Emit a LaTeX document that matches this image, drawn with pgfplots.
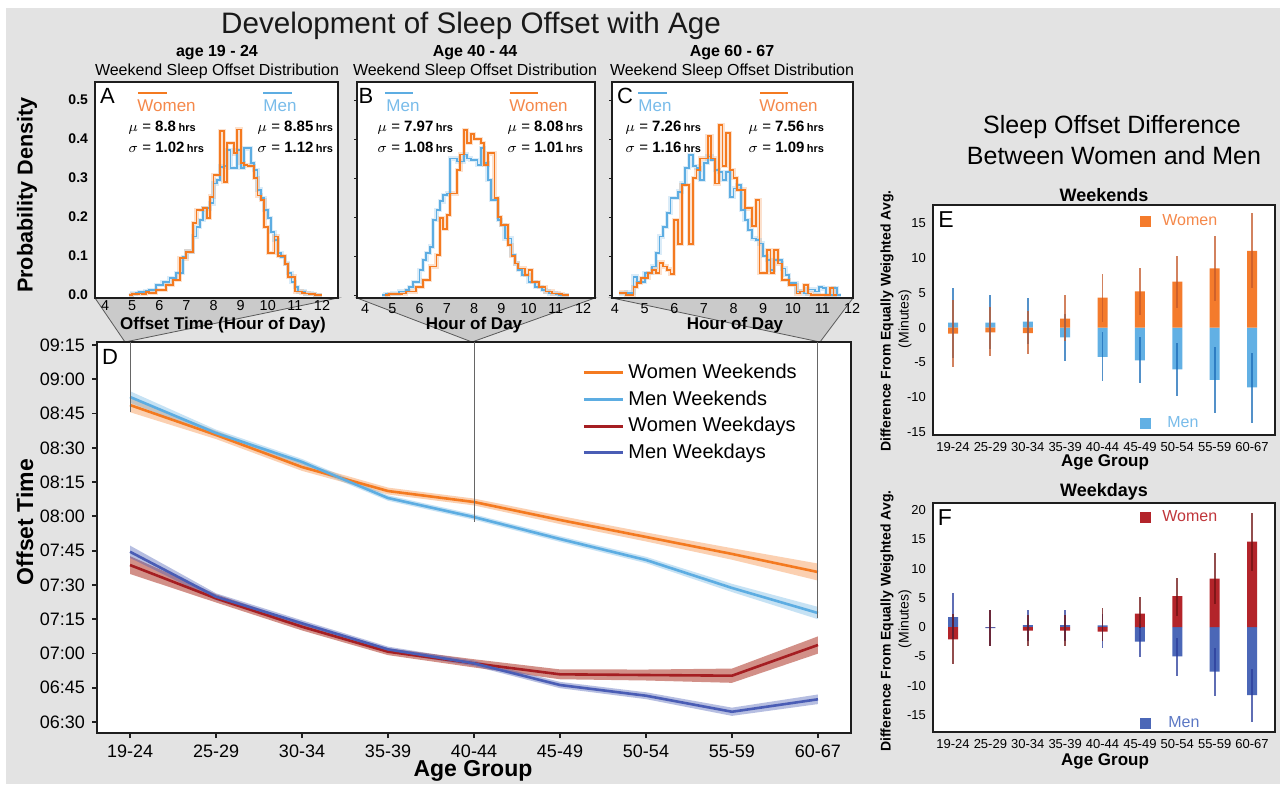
\documentclass[border=0pt]{standalone}
\usepackage{pgfplots}
\pgfplotsset{compat=1.18}
\usepackage{pgfplotstable}
\usepackage{fontspec}
\setmainfont{Liberation Sans}

\definecolor{bgGray}{HTML}{E3E3E3}
\definecolor{triGray}{HTML}{CACACA}
\definecolor{frameC}{HTML}{1E1E1E}
\definecolor{wOr}{HTML}{F47A20}
\definecolor{mBl}{HTML}{5DADE2}
\definecolor{wRd}{HTML}{A51E22}
\definecolor{wRdBand}{HTML}{B5473A}
\definecolor{mNv}{HTML}{4A5DB5}
\definecolor{eW}{HTML}{F47B2C}
\definecolor{eM}{HTML}{62B0E4}
\definecolor{eWerr}{HTML}{C4592A}
\definecolor{eMerr}{HTML}{1C6DB8}
\definecolor{fW}{HTML}{B3242A}
\definecolor{fM}{HTML}{4B67B7}
\definecolor{fWerr}{HTML}{6E1212}
\definecolor{fMerr}{HTML}{2A3D9C}
\definecolor{wOrTxt}{HTML}{F5884A}
\definecolor{mBlTxt}{HTML}{79BCEA}
\definecolor{fWTxt}{HTML}{C0363B}
\definecolor{fMTxt}{HTML}{5C78C4}

\newcommand\fs[2]{\fontsize{#1}{#2}\selectfont}

\pgfplotsset{
  panel/.style={scale only axis, anchor=south west,
    axis line style={frameC, line width=1.4pt},
    axis background/.style={fill=white},
    /pgf/number format/assume math mode=true,
    tick style={frameC}},
  hist/.style={panel, height=108pt, ymin=-0.0077, ymax=0.546,
    xtick={4,5,6,7,8,9,10,11,12},
    ytick={0,0.1,0.2,0.3,0.4,0.5},
    xtick style={draw=none},
    tick label style={font=\fs{7.2}{8}},
    xticklabel style={yshift=2.2pt},
    yticklabel style={/pgf/number format/fixed, /pgf/number format/fixed zerofill, /pgf/number format/precision=1},
    ytick pos=left, tick align=outside, major tick length=1.5pt},
  diff/.style={panel, width=171pt, xmin=-0.535, xmax=8.615,
    xtick={0,1,2,3,4,5,6,7,8},
    xticklabels={19-24,25-29,30-34,35-39,40-44,45-49,50-54,55-59,60-67},
    major tick length=0pt, tick label style={font=\fs{6.5}{7}},
    legend style={draw=none, fill=none, inner sep=0pt, font=\fs{8}{9},
      nodes={inner sep=0pt}, column sep=5.5pt},
    legend cell align=left,
    legend image code/.code={\fill[##1] (0pt,-2.75pt) rectangle (5.5pt,2.75pt);}},
}

% ---------- histogram data (bin left edge, density) ----------
\pgfplotstableread{
x y
4.875 0
5.000 0.003
5.125 0.003
5.250 0.004
5.375 0.003
5.500 0.007
5.625 0.005
5.750 0.005
5.875 0.013
6.000 0.013
6.125 0.013
6.250 0.026
6.375 0.026
6.500 0.038
6.625 0.038
6.750 0.094
6.875 0.094
7.000 0.111
7.125 0.111
7.250 0.184
7.375 0.218
7.500 0.218
7.625 0.222
7.750 0.197
7.875 0.252
8.000 0.308
8.125 0.308
8.250 0.420
8.375 0.290
8.500 0.389
8.625 0.390
8.750 0.363
8.875 0.424
9.000 0.338
9.125 0.333
9.250 0.330
9.375 0.330
9.500 0.300
9.625 0.255
9.750 0.243
9.875 0.175
10.000 0.107
10.125 0.107
10.250 0.150
10.375 0.100
10.500 0.100
10.625 0.080
10.750 0.047
10.875 0.047
11.000 0.009
11.125 0.009
11.250 0.006
11.375 0.004
11.500 0.003
11.625 0.002
11.750 0
12.000 0
}\histAW
\pgfplotstableread{
x y
4.875 0
5.000 0.004
5.125 0.005
5.250 0.007
5.375 0.008
5.500 0.010
5.625 0.013
5.750 0.013
5.875 0.026
6.000 0.026
6.125 0.034
6.250 0.034
6.375 0.043
6.500 0.043
6.625 0.056
6.750 0.056
6.875 0.098
7.000 0.111
7.125 0.111
7.250 0.150
7.375 0.175
7.500 0.192
7.625 0.222
7.750 0.222
7.875 0.235
8.000 0.286
8.125 0.295
8.250 0.329
8.375 0.330
8.500 0.372
8.625 0.325
8.750 0.325
8.875 0.372
9.000 0.325
9.125 0.376
9.250 0.376
9.375 0.338
9.500 0.320
9.625 0.270
9.750 0.248
9.875 0.218
10.000 0.197
10.125 0.162
10.250 0.141
10.375 0.107
10.500 0.098
10.625 0.081
10.750 0.056
10.875 0.034
11.000 0.021
11.125 0.009
11.250 0.009
11.375 0.004
11.500 0.004
11.625 0.002
11.750 0
12.000 0
}\histAM
\pgfplotstableread{
x y
4.750 0
4.875 0.002
5.000 0.002
5.125 0.002
5.250 0.003
5.375 0.004
5.500 0.009
5.625 0.009
5.750 0.009
5.875 0.021
6.000 0.021
6.125 0.038
6.250 0.038
6.375 0.073
6.500 0.073
6.625 0.103
6.750 0.197
6.875 0.170
7.000 0.205
7.125 0.260
7.250 0.260
7.375 0.320
7.500 0.360
7.625 0.423
7.750 0.390
7.875 0.412
8.000 0.400
8.125 0.400
8.250 0.390
8.375 0.333
8.500 0.363
8.625 0.363
8.750 0.248
8.875 0.200
9.000 0.180
9.125 0.180
9.250 0.128
9.375 0.100
9.500 0.081
9.625 0.068
9.750 0.068
9.875 0.051
10.000 0.064
10.125 0.034
10.250 0.034
10.375 0.021
10.500 0.021
10.625 0.009
10.750 0.009
10.875 0.004
11.000 0.004
11.125 0.002
11.250 0
11.500 0
}\histBW
\pgfplotstableread{
x y
4.625 0
4.750 0.002
4.875 0.002
5.000 0.004
5.125 0.004
5.250 0.009
5.375 0.009
5.500 0.013
5.625 0.021
5.750 0.034
5.875 0.034
6.000 0.064
6.125 0.090
6.250 0.107
6.375 0.124
6.500 0.192
6.625 0.218
6.750 0.240
6.875 0.256
7.000 0.260
7.125 0.350
7.250 0.350
7.375 0.342
7.500 0.342
7.625 0.360
7.750 0.350
7.875 0.346
8.000 0.346
8.125 0.333
8.250 0.376
8.375 0.338
8.500 0.295
8.625 0.244
8.750 0.244
8.875 0.192
9.000 0.180
9.125 0.145
9.250 0.145
9.375 0.103
9.500 0.081
9.625 0.064
9.750 0.051
9.875 0.051
10.000 0.034
10.125 0.034
10.250 0.021
10.375 0.021
10.500 0.013
10.625 0.009
10.750 0.004
10.875 0.004
11.000 0.002
11.125 0
11.500 0
}\histBM
\pgfplotstableread{
x y
4.125 0.006
4.250 0.006
4.375 0.000
4.500 0.000
4.625 0.021
4.750 0.030
4.875 0.043
5.000 0.043
5.125 0.056
5.250 0.065
5.375 0.056
5.500 0.083
5.625 0.073
5.750 0.065
5.875 0.054
6.000 0.192
6.125 0.130
6.250 0.282
6.375 0.282
6.500 0.130
6.625 0.300
6.750 0.320
6.875 0.350
7.000 0.350
7.125 0.408
7.250 0.350
7.375 0.286
7.500 0.436
7.625 0.330
7.750 0.415
7.875 0.320
8.000 0.300
8.125 0.270
8.250 0.270
8.375 0.222
8.500 0.222
8.625 0.177
8.750 0.244
8.875 0.056
9.000 0.056
9.125 0.115
9.250 0.056
9.375 0.115
9.500 0.081
9.625 0.038
9.750 0.038
9.875 0.026
10.000 0.026
10.125 0.004
10.250 0.009
10.375 0.026
10.500 0.004
10.625 0.000
10.750 0.000
10.875 0.000
11.000 0.000
11.125 0.000
11.250 0.017
11.375 0.000
11.500 0.000
}\histCW
\pgfplotstableread{
x y
4.125 0.004
4.250 0.004
4.375 0.006
4.500 0.006
4.625 0.047
4.750 0.034
4.875 0.034
5.000 0.056
5.125 0.056
5.250 0.073
5.375 0.107
5.500 0.150
5.625 0.175
5.750 0.210
5.875 0.248
6.000 0.248
6.125 0.265
6.250 0.286
6.375 0.325
6.500 0.359
6.625 0.330
6.750 0.325
6.875 0.295
7.000 0.338
7.125 0.355
7.250 0.346
7.375 0.320
7.500 0.316
7.625 0.295
7.750 0.316
7.875 0.252
8.000 0.273
8.125 0.282
8.250 0.218
8.375 0.192
8.500 0.167
8.625 0.145
8.750 0.141
8.875 0.132
9.000 0.100
9.125 0.090
9.250 0.064
9.375 0.090
9.500 0.090
9.625 0.068
9.750 0.051
9.875 0.030
10.000 0.030
10.125 0.009
10.250 0.009
10.375 0.004
10.500 0.014
10.625 0.014
10.750 0.009
10.875 0.021
11.000 0.017
11.125 0.000
11.250 0.000
11.375 0.017
11.500 0.000
11.625 0.000
}\histCM

% ---------- panel D data (hours) ----------
\pgfplotstableread{
x ww mw wd md
0 8.812 8.871 7.645 7.742
1 8.594 8.608 7.402 7.414
2 8.360 8.397 7.195 7.220
3 8.185 8.134 7.013 7.030
4 8.105 7.995 6.928 6.928
5 7.974 7.835 6.848 6.770
6 7.850 7.682 6.843 6.692
7 7.726 7.478 6.838 6.575
8 7.594 7.295 7.062 6.666
}\dataD

\begin{document}
\begin{tikzpicture}[x=0.5pt,y=0.5pt]
\path[use as bounding box] (0,0) rectangle (1280,784);
\fill[white] (0,0) rectangle (1280,784);
\fill[bgGray] (6,0) rectangle (1280,784-8);

% zoom triangles
\filldraw[fill=triGray, draw=gray!70!black, line width=0.4pt] (95,784-298) -- (338,784-298) -- (125,784-342) -- cycle;
\filldraw[fill=triGray, draw=gray!70!black, line width=0.4pt] (357,784-298) -- (595,784-298) -- (472,784-342) -- cycle;
\filldraw[fill=triGray, draw=gray!70!black, line width=0.4pt] (612,784-298) -- (853,784-298) -- (820,784-342) -- cycle;

% ---------- A ----------
\begin{axis}[hist, at={(47.5pt,243pt)}, width=121.5pt, xmin=3.631, xmax=12.59,
  yticklabel style={font=\fs{7}{8}\bfseries}, major tick length=0pt]
\addplot[const plot, wOr, line width=2.2pt, opacity=0.22] table {\histAW};
\addplot[const plot, mBl, line width=2.2pt, opacity=0.22] table {\histAM};
\addplot[const plot, mBl, line width=0.9pt] table {\histAM};
\addplot[const plot, wOr, line width=0.9pt] table {\histAW};
\end{axis}

% ---------- B ----------
\begin{axis}[hist, at={(178.5pt,243pt)}, width=119pt, xmin=3.706, xmax=12.44, yticklabels={}]
\addplot[const plot, wOr, line width=2.2pt, opacity=0.22] table {\histBW};
\addplot[const plot, mBl, line width=2.2pt, opacity=0.22] table {\histBM};
\addplot[const plot, mBl, line width=0.9pt] table {\histBM};
\addplot[const plot, wOr, line width=0.9pt] table {\histBW};
\end{axis}

% ---------- C ----------
\begin{axis}[hist, at={(306pt,243pt)}, width=120.5pt, xmin=3.9, xmax=12.03, yticklabels={}]
\addplot[const plot, wOr, line width=2.2pt, opacity=0.22] table {\histCW};
\addplot[const plot, mBl, line width=2.2pt, opacity=0.22] table {\histCM};
\addplot[const plot, mBl, line width=0.9pt] table {\histCM};
\addplot[const plot, wOr, line width=0.9pt] table {\histCW};
\end{axis}

% ---------- D ----------
\begin{axis}[panel, at={(48.5pt,25.5pt)}, width=377pt, height=195.5pt,
  xmin=-0.384, xmax=8.384, ymin=6.42, ymax=9.272,
  xtick={0,1,2,3,4,5,6,7,8},
  xticklabels={19-24,25-29,30-34,35-39,40-44,45-49,50-54,55-59,60-67},
  ytick={6.5,6.75,7,7.25,7.5,7.75,8,8.25,8.5,8.75,9,9.25},
  yticklabels={06:30,06:45,07:00,07:15,07:30,07:45,08:00,08:15,08:30,08:45,09:00,09:15},
  tick align=outside, xtick pos=left, ytick pos=left, major tick length=2.5pt,
  tick style={line width=0.9pt},
  tick label style={font=\fs{9}{10}},
  legend cell align=left,
  legend style={at={(0.643,0.955)}, anchor=north west, draw=none, fill=none,
    font=\fs{10}{11}, row sep=0.6pt, inner sep=0pt},
  legend image code/.code={\draw[#1, line width=1.6pt] (0pt,0pt) -- (19.5pt,0pt);}]
\addplot[fill=wOr, fill opacity=0.35, draw=none, forget plot] coordinates {
 (0,8.864) (1,8.624) (2,8.388) (3,8.210) (4,8.130) (5,8.004) (6,7.883) (7,7.768) (8,7.656)
 (8,7.532) (7,7.684) (6,7.817) (5,7.944) (4,8.080) (3,8.160) (2,8.332) (1,8.564) (0,8.760)} -- cycle;
\addplot[fill=mBl, fill opacity=0.35, draw=none, forget plot] coordinates {
 (0,8.913) (1,8.633) (2,8.419) (3,8.154) (4,8.015) (5,7.856) (6,7.705) (7,7.508) (8,7.340)
 (8,7.250) (7,7.448) (6,7.659) (5,7.814) (4,7.975) (3,8.114) (2,8.375) (1,8.583) (0,8.829)} -- cycle;
\addplot[fill=wRdBand, fill opacity=0.6, draw=none, forget plot] coordinates {
 (0,7.710) (1,7.432) (2,7.222) (3,7.038) (4,6.958) (5,6.884) (6,6.883) (7,6.890) (8,7.125)
 (8,6.999) (7,6.786) (6,6.803) (5,6.812) (4,6.898) (3,6.988) (2,7.168) (1,7.372) (0,7.580)} -- cycle;
\addplot[fill=mNv, fill opacity=0.4, draw=none, forget plot] coordinates {
 (0,7.787) (1,7.439) (2,7.242) (3,7.050) (4,6.948) (5,6.793) (6,6.717) (7,6.605) (8,6.701)
 (8,6.631) (7,6.545) (6,6.667) (5,6.747) (4,6.908) (3,7.010) (2,7.198) (1,7.389) (0,7.697)} -- cycle;
\addplot[wOr, line width=1.3pt] table[x=x,y=ww]{\dataD};
\addlegendentry{Women Weekends}
\addplot[mBl, line width=1.3pt] table[x=x,y=mw]{\dataD};
\addlegendentry{Men Weekends}
\addplot[wRd, line width=1.3pt] table[x=x,y=wd]{\dataD};
\addlegendentry{Women Weekdays}
\addplot[mNv, line width=1.3pt] table[x=x,y=md]{\dataD};
\addlegendentry{Men Weekdays}
\draw[gray!80!black, line width=0.5pt] (axis cs:0,9.272) -- (axis cs:0,8.76);
\draw[gray!80!black, line width=0.5pt] (axis cs:4,9.272) -- (axis cs:4,7.96);
\draw[gray!80!black, line width=0.5pt] (axis cs:8,9.272) -- (axis cs:8,7.26);
\end{axis}

% ---------- E ----------
\begin{axis}[diff, at={(466.5pt,174.5pt)}, height=115pt, ymin=-15.43, ymax=17.6,
  ytick={-15,-10,-5,0,5,10,15},
  legend style={at={(0.605,0.962)}, anchor=north west, row sep=94pt}]
\addplot[ybar, bar width=5pt, bar shift=0pt, fill=eM, draw=none, forget plot]
  coordinates {(0,0.7) (1,0.7) (2,0.86) (3,-1.4) (4,-4.2) (5,-4.7) (6,-6.0) (7,-7.5) (8,-8.6)};
\addplot[ybar, bar width=5pt, bar shift=0pt, fill=eW, draw=none, forget plot]
  coordinates {(0,-0.86) (1,-0.7) (2,-0.8) (3,1.3) (4,4.3) (5,5.2) (6,6.6) (7,8.5) (8,11.0)};
\addplot[draw=none, forget plot, error bars/.cd, y dir=both, y explicit, error mark=none,
  error bar style={draw=eMerr, line width=0.9pt, opacity=0.75}]
  coordinates {(0,0.7) +- (0,5.0) (1,0.8) +- (0,3.9) (2,0.9) +- (0,3.3) (3,-1.4) +- (0,3.4)
   (4,-4.15) +- (0,3.55) (5,-4.6) +- (0,3.3) (6,-6.05) +- (0,3.85) (7,-7.55) +- (0,4.75) (8,-8.65) +- (0,5.05)};
\addplot[draw=none, forget plot, error bars/.cd, y dir=both, y explicit, error mark=none,
  error bar style={draw=eWerr, line width=0.9pt, opacity=0.75}]
  coordinates {(0,-0.86) +- (0,4.8) (1,-0.6) +- (0,3.5) (2,-0.7) +- (0,3.1) (3,1.4) +- (0,3.3)
   (4,4.3) +- (0,3.45) (5,5.15) +- (0,3.35) (6,6.55) +- (0,3.75) (7,8.5) +- (0,4.7) (8,11.05) +- (0,5.35)};
\addlegendimage{fill=eW, draw=none}
\addlegendentry{\textcolor{wOrTxt}{Women}}
\addlegendimage{fill=eM, draw=none}
\addlegendentry{\hspace{2.5pt}\textcolor{mBlTxt}{Men}}
\end{axis}

% ---------- F ----------
\begin{axis}[diff, at={(466.5pt,26pt)}, height=114.5pt, ymin=-17.9, ymax=21.2,
  ytick={-15,-10,-5,0,5,10,15,20},
  legend style={at={(0.605,0.969)}, anchor=north west, row sep=96pt}]
\addplot[ybar, bar width=5pt, bar shift=0pt, fill=fM, draw=none, forget plot]
  coordinates {(0,1.7) (1,-0.15) (2,0.34) (3,0.34) (4,0.3) (5,-2.45) (6,-5.0) (7,-7.6) (8,-11.6)};
\addplot[ybar, bar width=5pt, bar shift=0pt, fill=fW, draw=none, forget plot]
  coordinates {(0,-2.1) (1,0.0) (2,-0.57) (3,-0.57) (4,-0.74) (5,2.33) (6,5.3) (7,8.3) (8,14.6)};
\addplot[draw=none, forget plot, error bars/.cd, y dir=both, y explicit, error mark=none,
  error bar style={draw=fMerr, line width=0.9pt, opacity=0.75}]
  coordinates {(0,1.9) +- (0,4.0) (1,-0.1) +- (0,3.1) (2,0.3) +- (0,2.7) (3,0.3) +- (0,2.7)
   (4,-0.65) +- (0,2.85) (5,-2.3) +- (0,2.8) (6,-5.05) +- (0,3.25) (7,-7.6) +- (0,4.1) (8,-11.65) +- (0,4.55)};
\addplot[draw=none, forget plot, error bars/.cd, y dir=both, y explicit, error mark=none,
  error bar style={draw=fWerr, line width=0.9pt, opacity=0.75}]
  coordinates {(0,-2.05) +- (0,4.25) (1,-0.1) +- (0,3.1) (2,-0.6) +- (0,2.6) (3,-0.6) +- (0,2.6)
   (4,0.4) +- (0,2.8) (5,2.55) +- (0,2.65) (6,5.15) +- (0,3.25) (7,8.3) +- (0,4.3) (8,14.55) +- (0,4.95)};
\addlegendimage{fill=fW, draw=none}
\addlegendentry{\textcolor{fWTxt}{Women}}
\addlegendimage{fill=fM, draw=none}
\addlegendentry{\hspace{3pt}\textcolor{fMTxt}{Men}}
\end{axis}

% ---------- texts ----------
\node[font=\fs{14.8}{16}, text=black!90] at (471,784-26) {Development of Sleep Offset with Age};
\node[font=\fs{10.8}{12}\bfseries, rotate=90] at (27,784-195) {Probability Density};
% subtitles
\node[font=\fs{8}{9}\bfseries] at (217,784-53) {age 19 - 24};
\node[font=\fs{8}{9}] at (217,784-71) {Weekend Sleep Offset Distribution};
\node[font=\fs{8}{9}\bfseries] at (475,784-53) {Age 40 - 44};
\node[font=\fs{8}{9}] at (475,784-71) {Weekend Sleep Offset Distribution};
\node[font=\fs{8}{9}\bfseries] at (732,784-53) {Age 60 - 67};
\node[font=\fs{8}{9}] at (732,784-71) {Weekend Sleep Offset Distribution};
% panel letters
\node[font=\fs{11}{12}] at (107.5,784-95.5) {A};
\node[font=\fs{11}{12}] at (366,784-95.5) {B};
\node[font=\fs{11}{12}] at (625,784-95.5) {C};
\node[font=\fs{11}{12}] at (110,784-357) {D};
\node[font=\fs{11.5}{12}] at (946,784-220) {E};
\node[font=\fs{11.5}{12}] at (945,784-518) {F};
% histogram legends A
\draw[wOr, line width=1.2pt] (138,784-92.7) -- (167,784-92.7);
\node[anchor=west, inner sep=0pt, font=\fs{8.5}{9}, text=wOrTxt] at (137,784-106) {Women};
\draw[mBl, line width=1.2pt] (263,784-92.7) -- (292,784-92.7);
\node[anchor=west, inner sep=0pt, font=\fs{8.5}{9}, text=mBlTxt] at (263,784-106) {Men};
\node[anchor=west, inner sep=0pt, font=\fs{7.5}{8}] at (128,784-128) {$\mu$ = \textbf{8.8}\,{\fs{5.5}{6}\bfseries hrs}};
\node[anchor=west, inner sep=0pt, font=\fs{7.5}{8}] at (128,784-147) {$\sigma$ = \textbf{1.02}\,{\fs{5.5}{6}\bfseries hrs}};
\node[anchor=west, inner sep=0pt, font=\fs{7.5}{8}] at (257,784-128) {$\mu$ = \textbf{8.85}\,{\fs{5.5}{6}\bfseries hrs}};
\node[anchor=west, inner sep=0pt, font=\fs{7.5}{8}] at (257,784-147) {$\sigma$ = \textbf{1.12}\,{\fs{5.5}{6}\bfseries hrs}};
% B
\draw[mBl, line width=1.2pt] (385,784-92.7) -- (413,784-92.7);
\node[anchor=west, inner sep=0pt, font=\fs{8.5}{9}, text=mBlTxt] at (386,784-106) {Men};
\draw[wOr, line width=1.2pt] (510,784-92.7) -- (538,784-92.7);
\node[anchor=west, inner sep=0pt, font=\fs{8.5}{9}, text=wOrTxt] at (509,784-106) {Women};
\node[anchor=west, inner sep=0pt, font=\fs{7.5}{8}] at (377,784-128) {$\mu$ = \textbf{7.97}\,{\fs{5.5}{6}\bfseries hrs}};
\node[anchor=west, inner sep=0pt, font=\fs{7.5}{8}] at (377,784-147) {$\sigma$ = \textbf{1.08}\,{\fs{5.5}{6}\bfseries hrs}};
\node[anchor=west, inner sep=0pt, font=\fs{7.5}{8}] at (507,784-128) {$\mu$ = \textbf{8.08}\,{\fs{5.5}{6}\bfseries hrs}};
\node[anchor=west, inner sep=0pt, font=\fs{7.5}{8}] at (507,784-147) {$\sigma$ = \textbf{1.01}\,{\fs{5.5}{6}\bfseries hrs}};
% C
\draw[mBl, line width=1.2pt] (638,784-92.7) -- (667,784-92.7);
\node[anchor=west, inner sep=0pt, font=\fs{8.5}{9}, text=mBlTxt] at (638,784-106) {Men};
\draw[wOr, line width=1.2pt] (760,784-92.7) -- (788,784-92.7);
\node[anchor=west, inner sep=0pt, font=\fs{8.5}{9}, text=wOrTxt] at (759,784-106) {Women};
\node[anchor=west, inner sep=0pt, font=\fs{7.5}{8}] at (625,784-128) {$\mu$ = \textbf{7.26}\,{\fs{5.5}{6}\bfseries hrs}};
\node[anchor=west, inner sep=0pt, font=\fs{7.5}{8}] at (625,784-147) {$\sigma$ = \textbf{1.16}\,{\fs{5.5}{6}\bfseries hrs}};
\node[anchor=west, inner sep=0pt, font=\fs{7.5}{8}] at (748,784-128) {$\mu$ = \textbf{7.56}\,{\fs{5.5}{6}\bfseries hrs}};
\node[anchor=west, inner sep=0pt, font=\fs{7.5}{8}] at (748,784-147) {$\sigma$ = \textbf{1.09}\,{\fs{5.5}{6}\bfseries hrs}};
% hist x labels
\node[font=\fs{8.5}{9}\bfseries] at (223,784-325) {Offset Time (Hour of Day)};
\node[font=\fs{8.5}{9}\bfseries] at (474,784-325) {Hour of Day};
\node[font=\fs{8.5}{9}\bfseries] at (735,784-325) {Hour of Day};
% D labels
\node[font=\fs{11.5}{12}\bfseries, rotate=90] at (25,784-522) {Offset Time};
\node[font=\fs{11.5}{12}\bfseries] at (473,784-771) {Age Group};
% right side
\node[font=\fs{12.5}{14}] at (1112,784-127) {Sleep Offset Difference};
\node[font=\fs{12.5}{14}] at (1114,784-156) {Between Women and Men};
\node[font=\fs{9}{10}\bfseries] at (1104,784-195) {Weekends};
\node[font=\fs{9}{10}\bfseries] at (1104,784-492) {Weekdays};
\node[font=\fs{7}{8}\bfseries, rotate=90] at (887,784-321) {Difference From Equally Weighted Avg.};
\node[font=\fs{7}{8}, rotate=90] at (905,784-319) {(Minutes)};
\node[font=\fs{7}{8}\bfseries, rotate=90] at (887,784-621) {Difference From Equally Weighted Avg.};
\node[font=\fs{7}{8}, rotate=90] at (905,784-619) {(Minutes)};
\node[font=\fs{8.5}{9}\bfseries] at (1105,784-462) {Age Group};
\node[font=\fs{8.5}{9}\bfseries] at (1105,784-761) {Age Group};
\end{tikzpicture}
\end{document}
